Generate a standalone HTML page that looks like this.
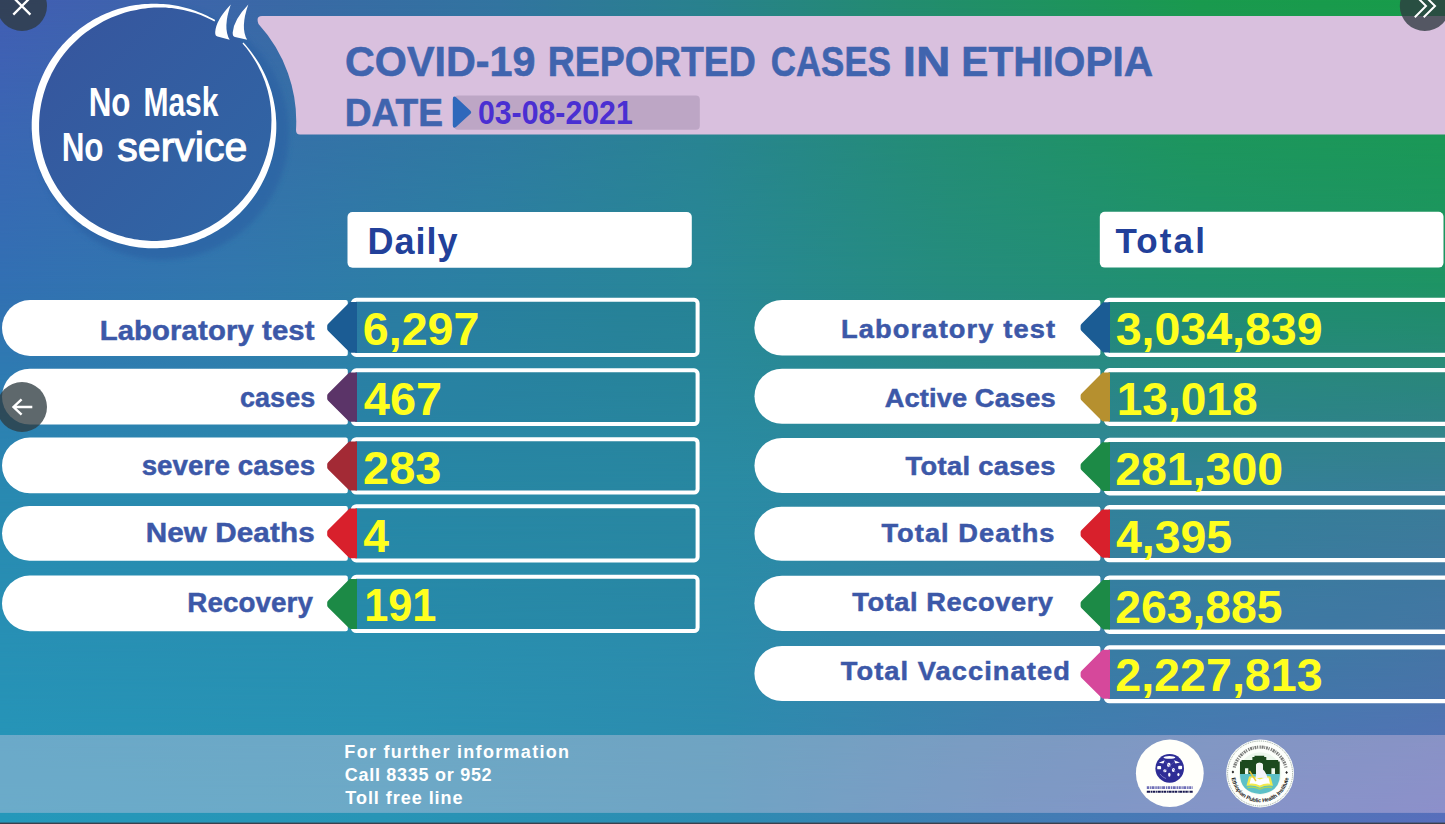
<!DOCTYPE html><html><head><meta charset="utf-8"><title>COVID-19 Reported Cases in Ethiopia</title><style>
html,body{margin:0;padding:0;}
body{width:1445px;height:824px;overflow:hidden;position:relative;font-family:"Liberation Sans",sans-serif;background:#2a8a9a;}
.abs{position:absolute;}
#bg0,#bg1,#bg2,#bg3{left:0;top:0;width:1445px;height:824px;}
#bg0{background:linear-gradient(to right,rgb(66,94,180) 0.0%,rgb(58,105,166) 19.4%,rgb(50,116,160) 34.6%,rgb(41,129,142) 48.4%,rgb(35,140,112) 62.3%,rgb(26,154,78) 83.0%,rgb(24,156,74) 100.0%);}
#bg1{background:linear-gradient(to right,rgb(50,112,179) 0.0%,rgb(49,120,173) 16.6%,rgb(43,129,162) 33.2%,rgb(40,135,151) 48.4%,rgb(37,140,126) 65.7%,rgb(32,145,110) 83.0%,rgb(30,148,100) 100.0%);-webkit-mask-image:linear-gradient(to bottom,rgba(0,0,0,0) 0px,rgba(0,0,0,1) 283px);mask-image:linear-gradient(to bottom,rgba(0,0,0,0) 0px,rgba(0,0,0,1) 283px);}
#bg2{background:linear-gradient(to right,rgb(41,138,177) 0.0%,rgb(41,139,172) 24.9%,rgb(42,139,165) 50.2%,rgb(52,133,158) 76.1%,rgb(62,127,156) 100.0%);-webkit-mask-image:linear-gradient(to bottom,rgba(0,0,0,0) 283px,rgba(0,0,0,1) 500px);mask-image:linear-gradient(to bottom,rgba(0,0,0,0) 283px,rgba(0,0,0,1) 500px);}
#bg3{background:linear-gradient(to right,rgb(37,152,186) 0.0%,rgb(40,149,182) 26.3%,rgb(45,140,178) 49.8%,rgb(65,125,180) 69.2%,rgb(88,110,188) 100.0%);-webkit-mask-image:linear-gradient(to bottom,rgba(0,0,0,0) 500px,rgba(0,0,0,1) 824px);mask-image:linear-gradient(to bottom,rgba(0,0,0,0) 500px,rgba(0,0,0,1) 824px);}
svg text{font-family:"Liberation Sans",sans-serif;white-space:pre;}
</style></head><body>
<div id="bg0" class="abs"></div><div id="bg1" class="abs"></div><div id="bg2" class="abs"></div><div id="bg3" class="abs"></div>
<svg class="abs" style="left:0;top:0" width="1445" height="824" viewBox="0 0 1445 824">
<defs>
<linearGradient id="cg" x1="0" y1="0" x2="1" y2="1"><stop offset="0" stop-color="#37549d"/><stop offset="1" stop-color="#2f68a6"/></linearGradient>
<filter id="bl" x="-20%" y="-20%" width="140%" height="140%"><feGaussianBlur stdDeviation="2.500"/></filter>
</defs>
<path d="M262 16 H1445 V134.500 H300 Q296 134.500 296 130 A144.500 144.500 0 0 0 258.500 24 Q255.500 16 262 16 Z" fill="#d9c0de"/>
<rect x="454" y="95.500" width="245.800" height="34.200" rx="4" fill="#bda6c5"/>
<path d="M456 97.300 L470.200 110.400 Q472.200 112.200 470.200 114 L456 127.100 Q453 129.200 452.800 125.500 V99 Q453 95.300 456 97.300Z" fill="#2f68bb"/>
<circle cx="162" cy="133" r="127" fill="#2c61a3" opacity="0.62" filter="url(#bl)"/>
<circle cx="154.0" cy="126.0" r="121.3" fill="url(#cg)"/>
<path d="M243.4 42.6 L245.5 44.8 L247.5 47.2 L249.4 49.5 L251.3 51.9 L253.1 54.4 L254.9 56.9 L256.6 59.4 L258.2 62.0 L259.8 64.6 L261.3 67.3 L262.7 69.9 L264.1 72.7 L265.4 75.4 L266.6 78.2 L267.7 81.1 L268.8 83.9 L269.8 86.8 L270.8 89.7 L271.7 92.6 L272.4 95.6 L273.2 98.5 L273.8 101.5 L274.4 104.5 L274.9 107.5 L275.3 110.5 L275.7 113.6 L275.9 116.6 L276.1 119.6 L276.3 122.7 L276.3 125.7 L276.3 128.8 L276.2 131.8 L276.0 134.9 L275.7 137.9 L275.4 140.9 L275.0 144.0 L274.5 147.0 L273.9 150.0 L273.3 153.0 L272.6 155.9 L271.8 158.9 L270.9 161.8 L270.0 164.7 L269.0 167.6 L267.9 170.5 L266.8 173.3 L265.6 176.1 L264.3 178.8 L262.9 181.6 L261.5 184.3 L260.0 186.9 L258.5 189.6 L256.9 192.2 L255.2 194.7 L253.4 197.2 L251.6 199.7 L249.8 202.1 L247.8 204.4 L245.9 206.8 L243.8 209.0 L241.7 211.2 L239.6 213.4 L237.3 215.5 L235.1 217.6 L232.8 219.5 L230.4 221.5 L228.0 223.4 L225.6 225.2 L223.1 226.9 L220.5 228.6 L218.0 230.2 L215.3 231.8 L212.7 233.3 L210.0 234.7 L207.3 236.1 L204.5 237.4 L201.7 238.6 L198.9 239.8 L196.0 240.9 L193.1 241.9 L190.2 242.8 L187.3 243.7 L184.4 244.5 L181.4 245.2 L178.4 245.8 L175.4 246.4 L172.4 246.9 L169.4 247.3 L166.4 247.7 L163.3 247.9 L160.3 248.1 L157.2 248.3 L154.2 248.3 L151.1 248.3 L148.1 248.2 L145.0 248.0 L142.0 247.7 L139.0 247.4 L135.9 247.0 L132.9 246.5 L129.9 245.9 L127.0 245.3 L124.0 244.6 L121.0 243.8 L118.1 242.9 L115.2 242.0 L112.3 241.0 L109.5 239.9 L106.6 238.8 L103.9 237.5 L101.1 236.3 L98.4 234.9 L95.7 233.5 L93.0 232.0 L90.4 230.4 L87.8 228.8 L85.2 227.1 L82.7 225.4 L80.3 223.6 L77.9 221.7 L75.5 219.8 L73.2 217.8 L70.9 215.8 L68.7 213.7 L66.6 211.5 L64.4 209.3 L62.4 207.0 L60.4 204.7 L58.5 202.4 L56.6 200.0 L54.8 197.5 L53.0 195.0 L51.3 192.5 L49.7 189.9 L48.2 187.3 L46.7 184.6 L45.2 181.9 L43.9 179.2 L42.6 176.4 L41.4 173.6 L40.2 170.8 L39.1 167.9 L38.1 165.1 L37.2 162.2 L36.3 159.2 L35.5 156.3 L34.8 153.3 L34.1 150.3 L33.6 147.4 L33.1 144.3 L32.7 141.3 L32.3 138.3 L32.1 135.2 L31.9 132.2 L31.7 129.2 L31.7 126.1 L31.7 123.1 L31.8 120.0 L32.0 117.0 L32.3 113.9 L32.6 110.9 L33.1 107.9 L33.5 104.9 L34.1 101.9 L34.7 98.9 L35.5 95.9 L36.2 93.0 L37.1 90.0 L38.0 87.1 L39.0 84.3 L40.1 81.4 L41.3 78.6 L42.5 75.8 L43.8 73.0 L45.1 70.3 L46.6 67.6 L48.0 64.9 L49.6 62.3 L51.2 59.7 L52.9 57.2 L54.7 54.7 L56.5 52.2 L58.3 49.8 L60.3 47.4 L62.3 45.1 L64.3 42.9 L66.4 40.7 L68.6 38.5 L70.8 36.4 L73.0 34.3 L75.3 32.4 L77.7 30.4 L80.1 28.5 L82.6 26.7 L85.1 25.0 L87.6 23.3 L90.2 21.7 L92.8 20.1 L95.5 18.6 L98.2 17.2 L100.9 15.8 L103.7 14.5 L106.5 13.3 L109.3 12.2 L112.1 11.1 L115.0 10.1 L117.9 9.1 L120.8 8.3 L123.8 7.5 L126.7 6.8 L129.7 6.1 L132.7 5.6 L135.7 5.1 L138.8 4.7 L141.8 4.3 L144.8 4.0 L147.9 3.9 L150.9 3.7 L154.0 3.7 L157.0 3.7 L160.1 3.9 L163.1 4.0 L166.2 4.3 L169.2 4.6 L172.2 5.1 L175.2 5.6 L178.2 6.1 L181.2 6.8 L184.2 7.5 L187.1 8.3 L190.0 9.1 L192.9 10.1 L195.8 11.1 L198.7 12.2 L201.5 13.3 L204.3 14.5 L207.1 15.8 L209.8 17.2 L212.5 18.6 L215.2 20.1 L214.4 21.4 L211.7 20.0 L209.0 18.7 L206.3 17.4 L203.5 16.3 L200.7 15.1 L197.9 14.1 L195.1 13.1 L192.2 12.3 L189.3 11.5 L186.4 10.7 L183.5 10.1 L180.6 9.5 L177.6 9.0 L174.7 8.5 L171.7 8.1 L168.8 7.9 L165.8 7.6 L162.9 7.5 L159.9 7.5 L156.9 7.5 L154.0 7.6 L151.0 7.8 L148.1 8.1 L145.2 8.4 L142.2 8.8 L139.3 9.3 L136.5 9.9 L133.6 10.5 L130.7 11.1 L127.9 11.8 L125.1 12.6 L122.3 13.5 L119.5 14.4 L116.8 15.4 L114.1 16.4 L111.4 17.6 L108.7 18.8 L106.1 20.0 L103.5 21.3 L101.0 22.7 L98.5 24.2 L96.0 25.7 L93.5 27.2 L91.1 28.7 L88.7 30.4 L86.4 32.1 L84.1 33.8 L81.9 35.6 L79.6 37.5 L77.5 39.4 L75.4 41.4 L73.3 43.4 L71.3 45.4 L69.4 47.6 L67.5 49.7 L65.6 51.9 L63.8 54.2 L62.1 56.5 L60.4 58.8 L58.8 61.2 L57.3 63.6 L55.8 66.1 L54.4 68.6 L53.0 71.1 L51.6 73.6 L50.4 76.2 L49.2 78.8 L48.0 81.4 L46.9 84.1 L45.9 86.8 L45.0 89.5 L44.1 92.2 L43.3 94.9 L42.6 97.7 L41.9 100.5 L41.3 103.3 L40.8 106.1 L40.3 109.0 L39.9 111.8 L39.6 114.7 L39.4 117.5 L39.2 120.4 L39.1 123.2 L39.1 126.1 L39.1 129.0 L39.2 131.8 L39.4 134.7 L39.7 137.5 L40.0 140.4 L40.4 143.2 L40.9 146.1 L41.4 148.9 L42.0 151.7 L42.7 154.5 L43.4 157.2 L44.3 160.0 L45.1 162.7 L46.1 165.4 L47.1 168.1 L48.2 170.7 L49.4 173.4 L50.6 175.9 L51.8 178.5 L53.2 181.0 L54.6 183.5 L56.1 186.0 L57.6 188.4 L59.2 190.8 L60.8 193.1 L62.5 195.4 L64.3 197.7 L66.1 199.9 L68.0 202.1 L69.9 204.2 L71.9 206.3 L73.9 208.3 L76.0 210.3 L78.1 212.2 L80.3 214.0 L82.5 215.8 L84.8 217.6 L87.1 219.3 L89.4 220.9 L91.8 222.5 L94.3 224.1 L96.7 225.5 L99.2 226.9 L101.7 228.3 L104.3 229.5 L106.9 230.7 L109.5 231.9 L112.2 233.0 L114.9 234.0 L117.6 234.9 L120.3 235.8 L123.0 236.6 L125.8 237.4 L128.6 238.0 L131.4 238.6 L134.2 239.2 L137.0 239.6 L139.9 240.0 L142.7 240.3 L145.6 240.6 L148.4 240.8 L151.3 240.9 L154.2 240.9 L157.0 240.9 L159.9 240.8 L162.8 240.6 L165.6 240.3 L168.5 240.0 L171.3 239.6 L174.1 239.1 L177.0 238.6 L179.8 238.0 L182.5 237.3 L185.3 236.6 L188.1 235.8 L190.8 234.9 L193.5 234.0 L196.2 232.9 L198.8 231.9 L201.5 230.7 L204.1 229.5 L206.6 228.2 L209.2 226.9 L211.7 225.5 L214.1 224.0 L216.6 222.5 L218.9 220.9 L221.3 219.2 L223.6 217.5 L225.9 215.8 L228.1 214.0 L230.3 212.1 L232.4 210.2 L234.5 208.3 L236.6 206.3 L238.6 204.2 L240.6 202.1 L242.5 199.9 L244.3 197.7 L246.1 195.5 L247.9 193.2 L249.5 190.9 L251.2 188.5 L252.7 186.1 L254.2 183.6 L255.7 181.1 L257.1 178.6 L258.4 176.0 L259.6 173.4 L260.8 170.8 L261.9 168.1 L263.0 165.4 L264.0 162.7 L265.0 160.0 L265.9 157.2 L266.8 154.5 L267.5 151.7 L268.2 148.8 L268.9 146.0 L269.4 143.1 L269.9 140.3 L270.4 137.4 L270.7 134.5 L271.0 131.6 L271.2 128.7 L271.3 125.7 L271.4 122.8 L271.5 119.9 L271.4 116.9 L271.3 114.0 L271.1 111.1 L270.9 108.1 L270.5 105.2 L270.1 102.3 L269.6 99.3 L269.1 96.4 L268.4 93.5 L267.7 90.6 L266.9 87.8 L266.0 84.9 L265.1 82.1 L264.0 79.3 L262.9 76.5 L261.8 73.8 L260.5 71.1 L259.2 68.4 L257.9 65.7 L256.4 63.1 L254.9 60.5 L253.3 57.9 L251.7 55.4 L250.0 52.9 L248.2 50.5 L246.4 48.1 L244.4 45.8 L242.5 43.5Z" fill="#fff"/>
<path d="M230.800 4.500 Q216 20 215.200 32 Q215 36 217.500 36.500 L229.700 39.800 Q222.500 28 230.800 4.500Z" fill="#fff"/>
<path d="M248.300 4.500 Q233.500 20 232.700 32.500 Q232.500 36.500 235 37 L247.200 39.800 Q240 28 248.300 4.500Z" fill="#fff"/>
<text transform="scale(0.7846,1)" x="113.01" y="115.60" font-size="40" font-weight="bold" fill="#fff" stroke="#fff" stroke-width="0">No</text>
<text transform="scale(0.7500,1)" x="191.27" y="115.60" font-size="40" font-weight="bold" fill="#fff" stroke="#fff" stroke-width="0">Mask</text>
<text transform="scale(0.7674,1)" x="80.34" y="161.30" font-size="41" font-weight="bold" fill="#fff" stroke="#fff" stroke-width="0">No</text>
<text transform="scale(1.0008,1)" x="117.28" y="161.30" font-size="41" font-weight="normal" fill="#fff" stroke="#fff" stroke-width="1.1">service</text>
<text transform="scale(0.9713,1)" x="355.26" y="75.70" font-size="42.5" font-weight="bold" fill="#4064ae" stroke="#4064ae" stroke-width="0.6">COVID-19</text>
<text transform="scale(0.8817,1)" x="621.29" y="75.70" font-size="42.5" font-weight="bold" fill="#4064ae" stroke="#4064ae" stroke-width="0.6">REPORTED</text>
<text transform="scale(0.8218,1)" x="937.84" y="75.70" font-size="42.5" font-weight="bold" fill="#4064ae" stroke="#4064ae" stroke-width="0.6">CASES</text>
<text transform="scale(1.1251,1)" x="802.33" y="75.70" font-size="42.5" font-weight="bold" fill="#4064ae" stroke="#4064ae" stroke-width="0.6">IN</text>
<text transform="scale(0.9559,1)" x="1005.71" y="75.70" font-size="42.5" font-weight="bold" fill="#4064ae" stroke="#4064ae" stroke-width="0.6">ETHIOPIA</text>
<text transform="scale(0.9720,1)" x="354.71" y="126.00" font-size="38.2" font-weight="bold" fill="#4064ae" stroke="#4064ae" stroke-width="0.6">DATE</text>
<text transform="scale(0.9178,1)" x="520.75" y="123.70" font-size="33" font-weight="bold" fill="#4a2fd2" >03-08-2021</text>
<rect x="347.500" y="212" width="344.300" height="55.800" rx="5" fill="#fff"/>
<rect x="1099.800" y="211.800" width="343.700" height="55.800" rx="5" fill="#fff"/>
<text x="367.56" y="253.60" font-size="36" font-weight="bold" fill="#22409a" letter-spacing="1.000" >Daily</text>
<text x="1115.45" y="252.80" font-size="35" font-weight="bold" fill="#22409a" letter-spacing="2.119" >Total</text>
<path d="M30.0 300.0 H345.8 Q347.8 300.0 347.8 302.0 V354.0 Q347.8 356.0 345.8 356.0 H30.0 A28.00 28.00 0 0 1 30.0 300.0Z" fill="#fff"/>
<rect x="352.8" y="299.8" width="344.8" height="55.1" rx="3.500" fill="rgba(25,100,120,0.09)" stroke="#fff" stroke-width="4.0"/>
<path d="M327.2 325.8 Q327.2 324.8 328.2 323.8 L349.9 302.0 H357 V352.7 H351.4 Q349.9 352.7 348.8 351.4 L328.2 331.0 Q327.2 330.0 327.2 329.0Z" fill="#1b5c94"/>
<text transform="scale(1.0471,1)" x="95.21" y="340.00" font-size="28" font-weight="bold" fill="#3c58a8" letter-spacing="0.100" stroke="#3c58a8" stroke-width="0.5">Laboratory test</text>
<text transform="scale(0.9914,1)" x="366.00" y="344.60" font-size="47" font-weight="bold" fill="#ffff1e" >6,297</text>
<path d="M29.9 368.7 H345.8 Q347.8 368.7 347.8 370.7 V422.5 Q347.8 424.5 345.8 424.5 H29.9 A27.90 27.90 0 0 1 29.9 368.7Z" fill="#fff"/>
<rect x="352.8" y="370.3" width="344.8" height="53.7" rx="3.500" fill="rgba(25,100,120,0.09)" stroke="#fff" stroke-width="4.0"/>
<path d="M327.2 395.5 Q327.2 394.5 328.2 393.5 L349.2 372.5 H357 V421.8 H350.7 Q349.2 421.8 348.0 420.5 L328.2 400.8 Q327.2 399.8 327.2 398.8Z" fill="#5b3468"/>
<text transform="scale(0.9622,1)" x="249.37" y="406.60" font-size="28" font-weight="bold" fill="#3c58a8" letter-spacing="0.100" stroke="#3c58a8" stroke-width="0.5">cases</text>
<text transform="scale(0.9978,1)" x="364.62" y="414.60" font-size="47" font-weight="bold" fill="#ffff1e" >467</text>
<path d="M29.9 437.5 H345.8 Q347.8 437.5 347.8 439.5 V491.3 Q347.8 493.3 345.8 493.3 H29.9 A27.90 27.90 0 0 1 29.9 437.5Z" fill="#fff"/>
<rect x="352.8" y="439.2" width="344.8" height="53.4" rx="3.500" fill="rgba(25,100,120,0.09)" stroke="#fff" stroke-width="4.0"/>
<path d="M327.2 464.3 Q327.2 463.3 328.2 462.3 L349.1 441.4 H357 V490.4 H350.6 Q349.1 490.4 347.9 489.1 L328.2 469.5 Q327.2 468.5 327.2 467.5Z" fill="#a32a35"/>
<text transform="scale(0.9892,1)" x="143.18" y="474.70" font-size="28" font-weight="bold" fill="#3c58a8" letter-spacing="0.100" stroke="#3c58a8" stroke-width="0.5">severe cases</text>
<text transform="scale(0.9987,1)" x="363.58" y="484.00" font-size="47" font-weight="bold" fill="#ffff1e" >283</text>
<path d="M29.4 506.0 H345.8 Q347.8 506.0 347.8 508.0 V558.7 Q347.8 560.7 345.8 560.7 H29.4 A27.35 27.35 0 0 1 29.4 506.0Z" fill="#fff"/>
<rect x="352.8" y="506.2" width="344.8" height="54.2" rx="3.500" fill="rgba(25,100,120,0.09)" stroke="#fff" stroke-width="4.0"/>
<path d="M327.2 531.7 Q327.2 530.7 328.2 529.7 L349.5 508.4 H357 V558.2 H351.0 Q349.5 558.2 348.3 556.9 L328.2 536.9 Q327.2 535.9 327.2 534.9Z" fill="#d8202c"/>
<text transform="scale(1.0586,1)" x="137.61" y="541.90" font-size="28" font-weight="bold" fill="#3c58a8" letter-spacing="0.100" stroke="#3c58a8" stroke-width="0.5">New Deaths</text>
<text transform="scale(0.9850,1)" x="368.83" y="552.20" font-size="47" font-weight="bold" fill="#ffff1e" >4</text>
<path d="M29.8 575.6 H345.8 Q347.8 575.6 347.8 577.6 V629.2 Q347.8 631.2 345.8 631.2 H29.8 A27.80 27.80 0 0 1 29.8 575.6Z" fill="#fff"/>
<rect x="352.8" y="576.8" width="344.8" height="54.3" rx="3.500" fill="rgba(25,100,120,0.09)" stroke="#fff" stroke-width="4.0"/>
<path d="M327.2 602.4 Q327.2 601.4 328.2 600.4 L349.6 579.0 H357 V628.9 H351.1 Q349.6 628.9 348.4 627.6 L328.2 607.6 Q327.2 606.6 327.2 605.6Z" fill="#1c8a46"/>
<text transform="scale(0.9914,1)" x="188.93" y="611.70" font-size="28" font-weight="bold" fill="#3c58a8" letter-spacing="0.100" stroke="#3c58a8" stroke-width="0.5">Recovery</text>
<text transform="scale(0.9211,1)" x="395.40" y="621.50" font-size="47" font-weight="bold" fill="#ffff1e" >191</text>
<path d="M782.1 300.0 H1098.4 Q1100.4 300.0 1100.4 302.0 V353.5 Q1100.4 355.5 1098.4 355.5 H782.1 A27.75 27.75 0 0 1 782.1 300.0Z" fill="#fff"/>
<rect x="1105.95" y="299.95" width="361.90000000000003" height="54.9" rx="3.500" fill="rgba(25,100,120,0.09)" stroke="#fff" stroke-width="4.3"/>
<path d="M1080.6 325.8 Q1080.6 324.8 1081.6 323.8 L1103.1 302.3 H1110 V352.5 H1104.6 Q1103.1 352.5 1101.9 351.2 L1081.6 331.0 Q1080.6 330.0 1080.6 329.0Z" fill="#1b5c94"/>
<text transform="scale(1.0700,1)" x="786.01" y="338.30" font-size="25.5" font-weight="bold" fill="#3c58a8" letter-spacing="1.042" stroke="#3c58a8" stroke-width="0.5">Laboratory test</text>
<text transform="scale(0.9895,1)" x="1127.49" y="344.80" font-size="47" font-weight="bold" fill="#ffff1e" >3,034,839</text>
<path d="M782.0 368.7 H1098.4 Q1100.4 368.7 1100.4 370.7 V421.8 Q1100.4 423.8 1098.4 423.8 H782.0 A27.55 27.55 0 0 1 782.0 368.7Z" fill="#fff"/>
<rect x="1105.95" y="370.15" width="361.90000000000003" height="53.7" rx="3.500" fill="rgba(25,100,120,0.09)" stroke="#fff" stroke-width="4.3"/>
<path d="M1080.6 395.4 Q1080.6 394.4 1081.6 393.4 L1102.5 372.5 H1110 V421.5 H1104.0 Q1102.5 421.5 1101.3 420.2 L1081.6 400.6 Q1080.6 399.6 1080.6 398.6Z" fill="#b6902f"/>
<text transform="scale(1.0682,1)" x="828.35" y="406.80" font-size="25.5" font-weight="bold" fill="#3c58a8" letter-spacing="0.100" stroke="#3c58a8" stroke-width="0.5">Active Cases</text>
<text transform="scale(0.9798,1)" x="1139.76" y="415.40" font-size="47" font-weight="bold" fill="#ffff1e" >13,018</text>
<path d="M782.0 437.9 H1098.4 Q1100.4 437.9 1100.4 439.9 V491.0 Q1100.4 493.0 1098.4 493.0 H782.0 A27.55 27.55 0 0 1 782.0 437.9Z" fill="#fff"/>
<rect x="1105.95" y="439.95" width="361.90000000000003" height="53.3" rx="3.500" fill="rgba(25,100,120,0.09)" stroke="#fff" stroke-width="4.3"/>
<path d="M1080.6 465.0 Q1080.6 464.0 1081.6 463.0 L1102.3 442.3 H1110 V490.9 H1103.8 Q1102.3 490.9 1101.1 489.6 L1081.6 470.2 Q1080.6 469.2 1080.6 468.2Z" fill="#1c8a46"/>
<text transform="scale(1.0700,1)" x="846.38" y="475.20" font-size="25.5" font-weight="bold" fill="#3c58a8" letter-spacing="0.318" stroke="#3c58a8" stroke-width="0.5">Total cases</text>
<text transform="scale(0.9889,1)" x="1127.71" y="484.80" font-size="47" font-weight="bold" fill="#ffff1e" >281,300</text>
<path d="M781.4 506.8 H1098.4 Q1100.4 506.8 1100.4 508.8 V558.7 Q1100.4 560.7 1098.4 560.7 H781.4 A26.95 26.95 0 0 1 781.4 506.8Z" fill="#fff"/>
<rect x="1105.95" y="507.25" width="361.90000000000003" height="52.9" rx="3.500" fill="rgba(25,100,120,0.09)" stroke="#fff" stroke-width="4.3"/>
<path d="M1080.6 532.1 Q1080.6 531.1 1081.6 530.1 L1102.1 509.6 H1110 V557.8 H1103.6 Q1102.1 557.8 1100.9 556.5 L1081.6 537.3 Q1080.6 536.3 1080.6 535.3Z" fill="#d8202c"/>
<text transform="scale(1.0700,1)" x="823.76" y="541.70" font-size="25.5" font-weight="bold" fill="#3c58a8" letter-spacing="0.974" stroke="#3c58a8" stroke-width="0.5">Total Deaths</text>
<text transform="scale(0.9886,1)" x="1128.79" y="552.80" font-size="47" font-weight="bold" fill="#ffff1e" >4,395</text>
<path d="M782.0 575.7 H1098.4 Q1100.4 575.7 1100.4 577.7 V629.0 Q1100.4 631.0 1098.4 631.0 H782.0 A27.65 27.65 0 0 1 782.0 575.7Z" fill="#fff"/>
<rect x="1105.95" y="577.55" width="361.90000000000003" height="54.2" rx="3.500" fill="rgba(25,100,120,0.09)" stroke="#fff" stroke-width="4.3"/>
<path d="M1080.6 603.0 Q1080.6 602.0 1081.6 601.0 L1102.8 579.9 H1110 V629.4 H1104.2 Q1102.8 629.4 1101.5 628.1 L1081.6 608.2 Q1080.6 607.2 1080.6 606.2Z" fill="#1c8a46"/>
<text transform="scale(1.0700,1)" x="796.47" y="611.20" font-size="25.5" font-weight="bold" fill="#3c58a8" letter-spacing="0.524" stroke="#3c58a8" stroke-width="0.5">Total Recovery</text>
<text transform="scale(0.9861,1)" x="1130.89" y="622.60" font-size="47" font-weight="bold" fill="#ffff1e" >263,885</text>
<path d="M781.9 646.0 H1098.4 Q1100.4 646.0 1100.4 648.0 V699.0 Q1100.4 701.0 1098.4 701.0 H781.9 A27.50 27.50 0 0 1 781.9 646.0Z" fill="#fff"/>
<rect x="1105.95" y="647.4499999999999" width="361.90000000000003" height="53.7" rx="3.500" fill="rgba(25,100,120,0.09)" stroke="#fff" stroke-width="4.3"/>
<path d="M1080.6 672.7 Q1080.6 671.7 1081.6 670.7 L1102.5 649.8 H1110 V698.8 H1104.0 Q1102.5 698.8 1101.3 697.5 L1081.6 677.9 Q1080.6 676.9 1080.6 675.9Z" fill="#d6489b"/>
<text transform="scale(1.0700,1)" x="785.82" y="679.60" font-size="25.5" font-weight="bold" fill="#3c58a8" letter-spacing="0.985" stroke="#3c58a8" stroke-width="0.5">Total Vaccinated</text>
<text transform="scale(0.9923,1)" x="1123.90" y="691.00" font-size="47" font-weight="bold" fill="#ffff1e" >2,227,813</text>
<rect x="0" y="735" width="1445" height="77.900" fill="rgb(255,215,235)" opacity="0.320"/>
<text x="344.33" y="757.50" font-size="18" font-weight="bold" fill="#fff" letter-spacing="1.306" >For further information</text>
<text x="344.78" y="780.50" font-size="18" font-weight="bold" fill="#fff" letter-spacing="0.718" >Call 8335 or 952</text>
<text x="345.32" y="803.50" font-size="18" font-weight="bold" fill="#fff" letter-spacing="0.965" >Toll free line</text>
<g>
<ellipse cx="1169.800" cy="773.300" rx="33.900" ry="33.700" fill="#fffffb"/>
<circle cx="1169.700" cy="768.400" r="14.300" fill="#2e2d96"/>
<g fill="#fff">
<ellipse cx="1169.400" cy="757.400" rx="5.900" ry="1.400"/>
<path d="M1158.800 762.800 L1164.800 760.200 L1163.400 763.600Z M1180 762.600 L1173.800 760.200 L1175.400 763.600Z"/>
<ellipse cx="1168.800" cy="764.900" rx="1.800" ry="2.100"/>
<rect x="1157.200" y="766" width="3.900" height="3.300" rx="0.900"/>
<rect x="1178.200" y="765.800" width="3.900" height="3.400" rx="0.900"/>
<ellipse cx="1164.900" cy="770.700" rx="1.600" ry="1.500"/>
<ellipse cx="1173.400" cy="770" rx="1.500" ry="1.900"/>
<ellipse cx="1169.300" cy="774.800" rx="1.200" ry="2"/>
<ellipse cx="1178.400" cy="774.600" rx="1.100" ry="1.600"/>
</g>
<path d="M1160 774 Q1162.500 777.500 1166 778.500" stroke="#7f80c8" stroke-width="0.900" fill="none"/>
<path d="M1163 759.500 L1176 772 M1176.500 759.500 L1163.500 772" stroke="#5a5ab5" stroke-width="0.900" fill="none" opacity="0.700"/>
<path d="M1146.800 787.600 H1192.700" stroke="#4a4aa5" stroke-width="2.700" stroke-dasharray="2.200 0.700 1.200 0.600 3 0.800 1.500 0.600" opacity="0.800"/>
<path d="M1146.800 791.800 H1192.700" stroke="#17174f" stroke-width="2" stroke-dasharray="3.200 0.600 1.800 0.500 2.500 0.700 1 0.500"/>
</g>
<g>
<circle cx="1260.100" cy="773.500" r="33.900" fill="#fdfffb"/>
<circle cx="1260.100" cy="773.500" r="32.500" fill="none" stroke="#7e8f86" stroke-width="0.800" stroke-dasharray="1 0.900"/>
<path d="M1234.300 767.500 A26.500 26.500 0 0 1 1285.900 767.500" fill="none" stroke="#2b2b2b" stroke-width="3.200" stroke-dasharray="1.300 0.800 2 0.700 0.900 0.900 1.700 0.800 1.100 1.400" opacity="0.620"/>
<text transform="translate(1231.91,779.85) rotate(77.3)" text-anchor="middle" font-size="5.6" font-weight="bold" fill="#1e1e1e">E</text><text transform="translate(1232.61,782.43) rotate(72.0)" text-anchor="middle" font-size="5.6" font-weight="bold" fill="#1e1e1e">t</text><text transform="translate(1233.49,784.78) rotate(67.0)" text-anchor="middle" font-size="5.6" font-weight="bold" fill="#1e1e1e">h</text><text transform="translate(1234.50,786.91) rotate(62.3)" text-anchor="middle" font-size="5.6" font-weight="bold" fill="#1e1e1e">i</text><text transform="translate(1235.68,788.96) rotate(57.7)" text-anchor="middle" font-size="5.6" font-weight="bold" fill="#1e1e1e">o</text><text transform="translate(1237.59,791.63) rotate(51.1)" text-anchor="middle" font-size="5.6" font-weight="bold" fill="#1e1e1e">p</text><text transform="translate(1239.15,793.40) rotate(46.5)" text-anchor="middle" font-size="5.6" font-weight="bold" fill="#1e1e1e">i</text><text transform="translate(1240.73,794.94) rotate(42.1)" text-anchor="middle" font-size="5.6" font-weight="bold" fill="#1e1e1e">a</text><text transform="translate(1243.16,796.92) rotate(35.9)" text-anchor="middle" font-size="5.6" font-weight="bold" fill="#1e1e1e">n</text><text transform="translate(1247.33,799.43) rotate(26.2)" text-anchor="middle" font-size="5.6" font-weight="bold" fill="#1e1e1e">P</text><text transform="translate(1250.51,800.76) rotate(19.4)" text-anchor="middle" font-size="5.6" font-weight="bold" fill="#1e1e1e">u</text><text transform="translate(1253.67,801.68) rotate(12.9)" text-anchor="middle" font-size="5.6" font-weight="bold" fill="#1e1e1e">b</text><text transform="translate(1255.99,802.11) rotate(8.2)" text-anchor="middle" font-size="5.6" font-weight="bold" fill="#1e1e1e">l</text><text transform="translate(1257.40,802.27) rotate(5.4)" text-anchor="middle" font-size="5.6" font-weight="bold" fill="#1e1e1e">i</text><text transform="translate(1259.61,802.40) rotate(1.0)" text-anchor="middle" font-size="5.6" font-weight="bold" fill="#1e1e1e">c</text><text transform="translate(1264.46,802.07) rotate(-8.7)" text-anchor="middle" font-size="5.6" font-weight="bold" fill="#1e1e1e">H</text><text transform="translate(1267.83,801.35) rotate(-15.5)" text-anchor="middle" font-size="5.6" font-weight="bold" fill="#1e1e1e">e</text><text transform="translate(1270.66,800.40) rotate(-21.4)" text-anchor="middle" font-size="5.6" font-weight="bold" fill="#1e1e1e">a</text><text transform="translate(1272.68,799.52) rotate(-25.8)" text-anchor="middle" font-size="5.6" font-weight="bold" fill="#1e1e1e">l</text><text transform="translate(1274.09,798.79) rotate(-28.9)" text-anchor="middle" font-size="5.6" font-weight="bold" fill="#1e1e1e">t</text><text transform="translate(1276.23,797.48) rotate(-33.9)" text-anchor="middle" font-size="5.6" font-weight="bold" fill="#1e1e1e">h</text><text transform="translate(1279.22,795.17) rotate(-41.4)" text-anchor="middle" font-size="5.6" font-weight="bold" fill="#1e1e1e">I</text><text transform="translate(1280.93,793.54) rotate(-46.1)" text-anchor="middle" font-size="5.6" font-weight="bold" fill="#1e1e1e">n</text><text transform="translate(1282.97,791.16) rotate(-52.3)" text-anchor="middle" font-size="5.6" font-weight="bold" fill="#1e1e1e">s</text><text transform="translate(1284.34,789.24) rotate(-57.0)" text-anchor="middle" font-size="5.6" font-weight="bold" fill="#1e1e1e">t</text><text transform="translate(1285.16,787.89) rotate(-60.1)" text-anchor="middle" font-size="5.6" font-weight="bold" fill="#1e1e1e">i</text><text transform="translate(1285.91,786.50) rotate(-63.3)" text-anchor="middle" font-size="5.6" font-weight="bold" fill="#1e1e1e">t</text><text transform="translate(1286.94,784.21) rotate(-68.3)" text-anchor="middle" font-size="5.6" font-weight="bold" fill="#1e1e1e">u</text><text transform="translate(1287.77,781.84) rotate(-73.2)" text-anchor="middle" font-size="5.6" font-weight="bold" fill="#1e1e1e">t</text><text transform="translate(1288.36,779.55) rotate(-77.9)" text-anchor="middle" font-size="5.6" font-weight="bold" fill="#1e1e1e">e</text>
<path d="M1231.600 772 l1.300 -1.600 l1.300 1.600 l-1.300 1.600z M1285.300 772.500 l1.300 -1.600 l1.300 1.600 l-1.300 1.600z" fill="#222"/>
<circle cx="1260.100" cy="773.500" r="21.300" fill="#eef8ee"/>
<path d="M1240 774 H1280 Q1280 792.500 1260 794 Q1240 792.500 1240 774Z" fill="#5cc0c8"/>
<path d="M1240 774 V761.500 H1241.500 V760 H1252.400 V757 H1254.500 V755.800 H1264.200 V757 H1266.300 V760 H1278.200 V761.500 H1279.700 V774 H1275 V768.200 H1271.400 V774 H1263 V766 Q1263 762.700 1259.500 762.700 Q1256 762.700 1256 766 V774 H1248.300 V768.200 H1245 V774Z" fill="#1c4a1e"/>
<path d="M1256 774 V766 Q1256 762.700 1259.500 762.700 Q1263 762.700 1263 766 V774Z" fill="#f4f7f4"/>
<path d="M1246.500 785.800 L1249 776.500 Q1254.500 775.500 1259.800 778 Q1265 775.500 1270.500 776.500 L1273 785.800 Q1266 784.500 1259.800 787.800 Q1253.500 784.500 1246.500 785.800Z" fill="#f2ea4e"/>
<path d="M1249.500 783.700 L1251 777.800 Q1255.500 777.200 1259.800 779.500 Q1264 777.200 1268.500 777.800 L1270 783.700 Q1264.500 783 1259.800 785.500 Q1255 783 1249.500 783.700Z" fill="#fff"/>
<path d="M1255.500 779 Q1256 770 1260 768.500 Q1266 769 1267.500 779 Q1262 776.500 1255.500 779Z" fill="#f6f4fa"/>
<path d="M1249.500 771 L1256 781" stroke="#e8c83a" stroke-width="1.400"/>
<path d="M1247.500 787.500 Q1254 786 1259.800 789.300 Q1265.500 786 1272 787.500" stroke="#a9d65a" stroke-width="1.300" fill="none"/>
</g>
<rect x="0" y="822.600" width="1445" height="1.400" fill="#3a3f4c"/>
<circle cx="22" cy="6" r="25" fill="rgb(46,58,64)" opacity="0.780"/>
<path d="M13.300 -2.500 L30.400 14.600 M30.400 -2.500 L13.300 14.600" stroke="#fff" stroke-width="2.300" fill="none"/>
<circle cx="1424.800" cy="6" r="25" fill="rgb(46,58,64)" opacity="0.780"/>
<path d="M1414.800 -5.200 L1426 6.070 L1414.800 17.300 M1423.700 -5.200 L1435 6.070 L1423.700 17.300" stroke="#fff" stroke-width="2" fill="none"/>
<circle cx="22" cy="407" r="25" fill="rgb(46,58,64)" opacity="0.770"/>
<path d="M32.300 407 H13.500 M21.600 399.300 L13.500 407 L21.600 414.700" stroke="#fff" stroke-width="2.400" fill="none" stroke-linejoin="miter"/>
</svg>
</body></html>
